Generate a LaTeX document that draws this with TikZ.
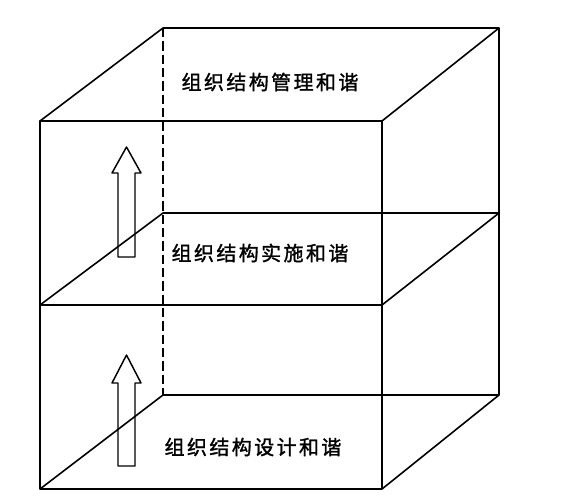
\documentclass[tikz,border=0pt]{standalone}
\usepackage{fontspec}
\newfontfamily\cjk[LetterSpace=12, FakeBold=1.5]{Noto Sans CJK SC}
\usetikzlibrary{positioning}

\begin{document}
\begin{tikzpicture}[x=0.75pt, y=-0.75pt, line join=round,
  edge/.style={draw, line width=1.2pt},
  hidden/.style={draw, line width=1.2pt, dash pattern=on 7pt off 3pt},
  uparrow/.style={draw, line width=1.1pt, fill=white},
  label/.style={font=\cjk\fontsize{15}{18}\selectfont, inner sep=0pt}]
\useasboundingbox (0,0) rectangle (566,501);
% front face
\coordinate (ftl) at (40,121);  \coordinate (ftr) at (382,121);
\coordinate (fml) at (40,305);  \coordinate (fmr) at (382,305);
\coordinate (fbl) at (40,489);  \coordinate (fbr) at (382,489);
% back face
\coordinate (btl) at (163,28);  \coordinate (btr) at (499,28);
\coordinate (bml) at (163,213); \coordinate (bmr) at (499,213);
\coordinate (bbl) at (163,395); \coordinate (bbr) at (499,395);

% arrows first, box lines over them
\path[uparrow] (118,257) -- (118,173) -- (112,173) -- (126.5,147) -- (141,173)
  -- (135,173) -- (135,257) -- cycle;
\path[uparrow] (118,466) -- (118,383) -- (112,383) -- (126.5,355) -- (141,383)
  -- (135,383) -- (135,466) -- cycle;

\path[edge] (ftl) rectangle (fbr);
\path[edge] (fml) -- (fmr);
\path[edge] (ftl) -- (btl) -- (btr) -- (ftr);
\path[edge] (btr) -- (bbr) -- (fbr);
\path[edge] (fml) -- (bml) -- (bmr) -- (fmr);
\path[edge] (fbl) -- (bbl) -- (bbr);
\path[hidden] (btl) -- (bbl);

\node[label] (top) at (270,82) {组织结构管理和谐};
\node[label] (mid) at (260,253) {组织结构实施和谐};
\node[label] (bot) at (253,447) {组织结构设计和谐};
\end{tikzpicture}
\end{document}
